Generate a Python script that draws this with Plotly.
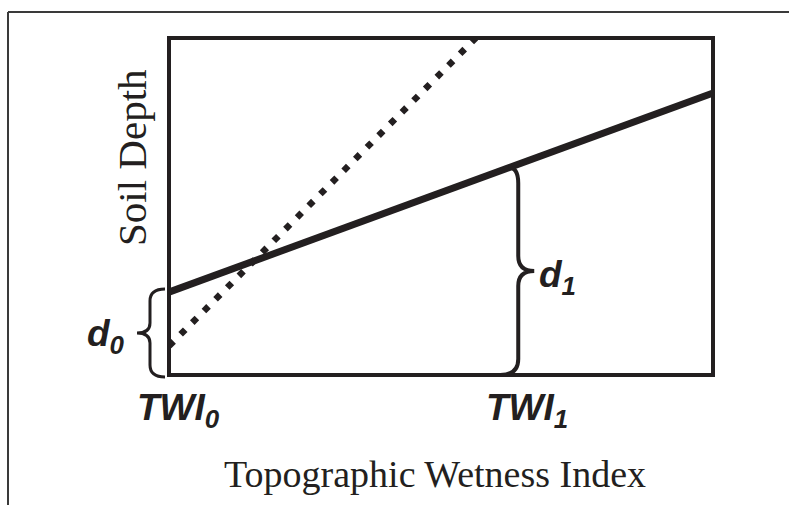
import plotly.graph_objects as go

# ---- data (schematic) ----
twi_positions = [0.0, 6.42]            # TWI0, TWI1 on x axis (0..10)
twi_labels = ["TWI", "TWI"]
twi_subs = ["0", "1"]
solid_x = [0.0, 10.0]                  # soil depth model (solid)
solid_y = [2.46, 8.37]
dotted_x = [0.0, 5.64]                 # steeper model (dotted)
dotted_y = [0.86, 10.0]
x_title = "Topographic Wetness Index"
y_title = "Soil Depth"

# ---- layout geometry ----
W, H = 789, 505
L, R, T, B = 169, 713, 38, 375
XR, YR = [0, 10], [0, 10]
INK = "#231f20"


def px(x):
    return L + (x - XR[0]) / (XR[1] - XR[0]) * (R - L)


def py(y):
    return B - (y - YR[0]) / (YR[1] - YR[0]) * (B - T)


def pxp(p):
    return (p - L) / (R - L)


def pyp(p):
    return (B - p) / (B - T)


def solid_at(x):
    return solid_y[0] + (solid_y[1] - solid_y[0]) * (x - solid_x[0]) / (solid_x[1] - solid_x[0])


def brace(x_spine, x_tip, x_end_top, x_end_bot, y_top, y_bot, r, rm):
    ym = (y_top + y_bot) / 2
    pts = [
        ("M", [(x_end_top, y_top)]),
        ("Q", [(x_spine, y_top), (x_spine, y_top + r)]),
        ("L", [(x_spine, ym - rm)]),
        ("Q", [(x_spine, ym), (x_tip, ym)]),
        ("Q", [(x_spine, ym), (x_spine, ym + rm)]),
        ("L", [(x_spine, y_bot - r)]),
        ("Q", [(x_spine, y_bot), (x_end_bot, y_bot)]),
    ]
    s = ""
    for cmd, ps in pts:
        s += cmd + " " + " ".join(f"{pxp(a):.5f},{pyp(b):.5f}" for a, b in ps) + " "
    return s.strip()


fig = go.Figure()
fig.add_trace(go.Scatter(x=dotted_x, y=dotted_y, mode="lines",
                         line=dict(color=INK, width=6.5, dash="6.5px,10px"),
                         hoverinfo="skip", showlegend=False))
fig.add_trace(go.Scatter(x=solid_x, y=solid_y, mode="lines",
                         line=dict(color=INK, width=7),
                         hoverinfo="skip", showlegend=False))

shapes = []
# plot box
shapes.append(dict(type="rect", xref="paper", yref="paper", x0=0, x1=1, y0=0, y1=1,
                   line=dict(color=INK, width=4), layer="above"))
# outer frame (top and left lines)
shapes.append(dict(type="line", xref="paper", yref="paper",
                   x0=pxp(8), x1=pxp(W + 5), y0=pyp(12), y1=pyp(12),
                   line=dict(color="#3a3a3a", width=2)))
shapes.append(dict(type="line", xref="paper", yref="paper",
                   x0=pxp(8), x1=pxp(8), y0=pyp(12), y1=pyp(H + 5),
                   line=dict(color="#3a3a3a", width=2)))

# brace d0 (left of axis, tip pointing left)
b0_top = py(solid_at(twi_positions[0])) - 3
b0_bot = py(0) + 2
shapes.append(dict(type="path", xref="paper", yref="paper",
                   path=brace(150, 137, 165, 165, b0_top, b0_bot, 12, 10),
                   line=dict(color=INK, width=3), layer="above"))
# brace d1 (at TWI1, tip pointing right)
sx = px(twi_positions[1])
b1_top = py(solid_at(twi_positions[1])) + 3
b1_bot = py(0)
shapes.append(dict(type="path", xref="paper", yref="paper",
                   path=brace(sx, sx + 16, sx - 10, sx - 18, b1_top, b1_bot, 16, 15),
                   line=dict(color=INK, width=4), layer="above"))

lab_font = dict(family="Liberation Sans, Arial, sans-serif", size=37, color=INK)
annotations = []
for xv, t, s in zip(twi_positions, twi_labels, twi_subs):
    annotations.append(dict(xref="paper", yref="paper", x=pxp(px(xv) + 9), y=pyp(410),
                            text=f"<b><i>{t}<sub>{s}</sub></i></b>", showarrow=False,
                            xanchor="center", yanchor="middle", font=lab_font))
annotations.append(dict(xref="paper", yref="paper", x=pxp(106), y=pyp(336),
                        text="<b><i>d<sub>0</sub></i></b>", showarrow=False,
                        xanchor="center", yanchor="middle", font=lab_font))
annotations.append(dict(xref="paper", yref="paper", x=pxp(557), y=pyp(277),
                        text="<b><i>d<sub>1</sub></i></b>", showarrow=False,
                        xanchor="center", yanchor="middle", font=lab_font))
annotations.append(dict(xref="paper", yref="paper", x=pxp(435), y=pyp(474),
                        text=x_title, showarrow=False, xanchor="center", yanchor="middle",
                        font=dict(family="Liberation Serif, Times New Roman, serif",
                                  size=38, color=INK)))
annotations.append(dict(xref="paper", yref="paper", x=pxp(132), y=pyp(158),
                        text=y_title, showarrow=False, xanchor="center", yanchor="middle",
                        textangle=-90,
                        font=dict(family="Liberation Serif, Times New Roman, serif",
                                  size=41, color=INK)))

fig.update_layout(
    width=W, height=H,
    margin=dict(l=L, r=W - R, t=T, b=H - B, pad=0),
    paper_bgcolor="white", plot_bgcolor="white",
    xaxis=dict(range=XR, visible=False, fixedrange=True),
    yaxis=dict(range=YR, visible=False, fixedrange=True),
    shapes=shapes, annotations=annotations, showlegend=False,
)
fig.write_html("out.html", config={"displayModeBar": False},
               post_script="document.body.style.margin='0';")
